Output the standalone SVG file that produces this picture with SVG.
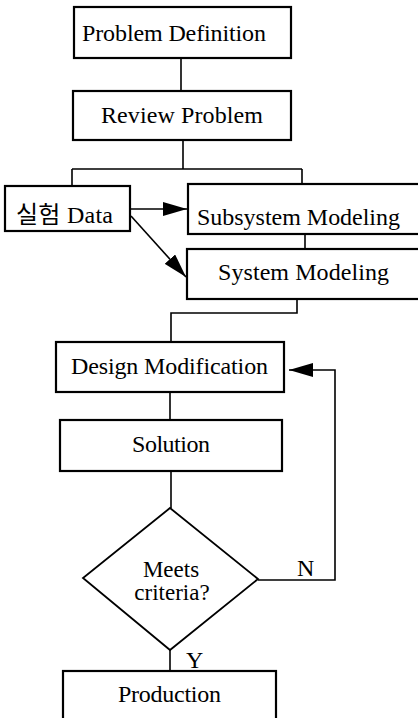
<svg xmlns="http://www.w3.org/2000/svg" width="418" height="718" viewBox="0 0 418 718">
<style>
.box{fill:#fff;stroke:#000;stroke-width:2.2}
.ln{fill:none;stroke:#000;stroke-width:1.6}
.t{font-family:"Liberation Serif","Noto Sans CJK KR",serif;font-size:24px;fill:#000}
.s{font-family:"Liberation Serif",serif;font-size:23px;fill:#000}
</style>
<defs>
<marker id="ah" viewBox="0 0 24 14" refX="24" refY="7" markerWidth="24" markerHeight="14" markerUnits="userSpaceOnUse" orient="auto">
<path d="M0,0 L24,7 L0,14 z" fill="#000"/>
</marker>
</defs>
<g id="connectors">
<path class="ln" d="M181,58 V91"/>
<path class="ln" d="M183,140 V169 M72,169 H302 M72,169 V186 M302,169 V184"/>
<path class="ln" d="M130,209 H187" marker-end="url(#ah)"/>
<path class="ln" d="M131,216 L186,277" marker-end="url(#ah)"/>
<path class="ln" d="M305,234 V249"/>
<path class="ln" d="M297,299 V313 H171 V342"/>
<path class="ln" d="M170,392 V420"/>
<path class="ln" d="M171,471 V508"/>
<path class="ln" d="M258,580 H335 V370 H289" marker-end="url(#ah)"/>
<path class="ln" d="M170,650 V671"/>
<text class="t" x="297" y="576">N</text>
<text class="t" x="186" y="668">Y</text>
</g>
<g id="problem-definition">
<rect class="box" x="74" y="7" width="217" height="51"/>
<text class="t" x="82" y="41" textLength="184">Problem Definition</text>
</g>
<g id="review-problem">
<rect class="box" x="73" y="91" width="218" height="49"/>
<text class="t" x="101" y="123" textLength="162">Review Problem</text>
</g>
<g id="experiment-data">
<rect class="box" x="5" y="186" width="125" height="45"/>
<text class="t" x="16" y="223" textLength="97">실험 Data</text>
</g>
<g id="subsystem-modeling">
<rect class="box" x="188" y="184" width="232" height="50"/>
<text class="t" x="197" y="225" textLength="203">Subsystem Modeling</text>
</g>
<g id="system-modeling">
<rect class="box" x="187" y="249" width="233" height="50"/>
<text class="t" x="218" y="280" textLength="171">System Modeling</text>
</g>
<g id="design-modification">
<rect class="box" x="56" y="342" width="228" height="50"/>
<text class="t" x="71" y="374" textLength="197">Design Modification</text>
</g>
<g id="solution">
<rect class="box" x="60" y="420" width="222" height="51"/>
<text class="t" x="132" y="452" textLength="78">Solution</text>
</g>
<g id="meets-criteria">
<polygon class="box" points="170,508 258,579 170,650 83,578" style="stroke-width:1.8"/>
<text class="s" x="171" y="577" text-anchor="middle">Meets</text>
<text class="s" x="172" y="600" text-anchor="middle">criteria?</text>
</g>
<g id="production">
<rect class="box" x="63" y="671" width="213" height="60"/>
<text class="t" x="118" y="702" textLength="103">Production</text>
</g>
</svg>
